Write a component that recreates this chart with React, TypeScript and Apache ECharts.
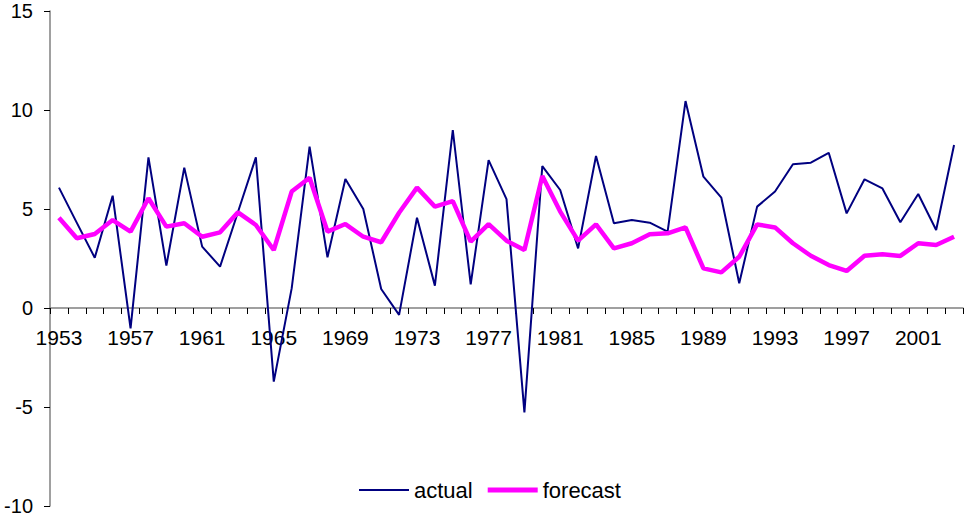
import React, { useEffect, useRef } from "react";
import * as echarts from "echarts";

const years: string[] = [];
for (let y = 1953; y <= 2003; y++) years.push(String(y));

const actual = [
  6.08, 4.3, 2.54, 5.67, -1.03, 7.61, 2.14, 7.09, 3.1, 2.09,
  4.85, 7.61, -3.72, 0.99, 8.15, 2.56, 6.52, 5.0, 0.96, -0.35,
  4.56, 1.13, 8.99, 1.19, 7.47, 5.5, -5.27, 7.17, 5.96, 3.01,
  7.68, 4.28, 4.44, 4.31, 3.86, 10.45, 6.63, 5.57, 1.25, 5.12,
  5.88, 7.26, 7.34, 7.84, 4.78, 6.5, 6.04, 4.33, 5.76, 3.94,
  8.23,
];

const forecast = [
  4.56, 3.52, 3.74, 4.44, 3.86, 5.54, 4.11, 4.28, 3.6, 3.82,
  4.83, 4.19, 2.93, 5.88, 6.58, 3.86, 4.24, 3.6, 3.32, 4.81,
  6.08, 5.12, 5.4, 3.35, 4.24, 3.4, 2.93, 6.67, 4.87, 3.4,
  4.22, 3.01, 3.27, 3.72, 3.77, 4.07, 2.0, 1.8, 2.59, 4.22,
  4.07, 3.27, 2.64, 2.17, 1.87, 2.64, 2.71, 2.63, 3.27, 3.18,
  3.6,
];

const FONT = "'Liberation Sans', Arial, sans-serif";

export default function App() {
  const ref = useRef<HTMLDivElement>(null);
  useEffect(() => {
    if (!ref.current) return;
    const chart = echarts.init(ref.current, undefined, { renderer: "svg" });
    chart.setOption({
      animation: false,
      backgroundColor: "#ffffff",
      textStyle: { fontFamily: FONT },
      grid: {
        left: 50,
        right: 2,
        top: 11,
        bottom: 11,
        containLabel: false,
        outerBoundsMode: "none",
      },
      legend: {
        left: 354,
        top: 474,
        itemWidth: 50,
        itemHeight: 14,
        itemGap: 15,
        symbolKeepAspect: true,
        textStyle: { fontSize: 22, color: "#000", fontFamily: FONT },
        data: [
          { name: "actual", icon: "path://M0,0 L50,0 L50,2 L0,2 Z" },
          { name: "forecast", icon: "path://M0,0 L50,0 L50,5 L0,5 Z" },
        ],
      },
      xAxis: {
        type: "category",
        data: years,
        boundaryGap: true,
        offset: -198,
        axisLine: { onZero: false, lineStyle: { color: "#808080", width: 1.5 } },
        axisTick: { show: true, interval: 0, length: 6, lineStyle: { color: "#000" } },
        axisLabel: { interval: 3, fontSize: 21, color: "#000", margin: 19, fontFamily: FONT },
        splitLine: { show: false },
      },
      yAxis: {
        type: "value",
        min: -10,
        max: 15,
        interval: 5,
        axisLine: { show: true, lineStyle: { color: "#808080", width: 1.5 } },
        axisTick: { show: true, length: 6, lineStyle: { color: "#000" } },
        axisLabel: { fontSize: 20, color: "#000", margin: 17, fontFamily: FONT },
        splitLine: { show: false },
      },
      series: [
        {
          name: "actual",
          type: "line",
          data: actual,
          symbol: "none",
          showSymbol: false,
          itemStyle: { color: "#000080" },
          lineStyle: { color: "#000080", width: 2 },
        },
        {
          name: "forecast",
          type: "line",
          data: forecast,
          symbol: "none",
          showSymbol: false,
          itemStyle: { color: "#FF00FF" },
          lineStyle: { color: "#FF00FF", width: 4.5 },
        },
      ],
    });
    return () => chart.dispose();
  }, []);
  return (
    <div
      ref={ref}
      style={{ position: "fixed", left: 0, top: 0, width: 965, height: 517 }}
    />
  );
}
